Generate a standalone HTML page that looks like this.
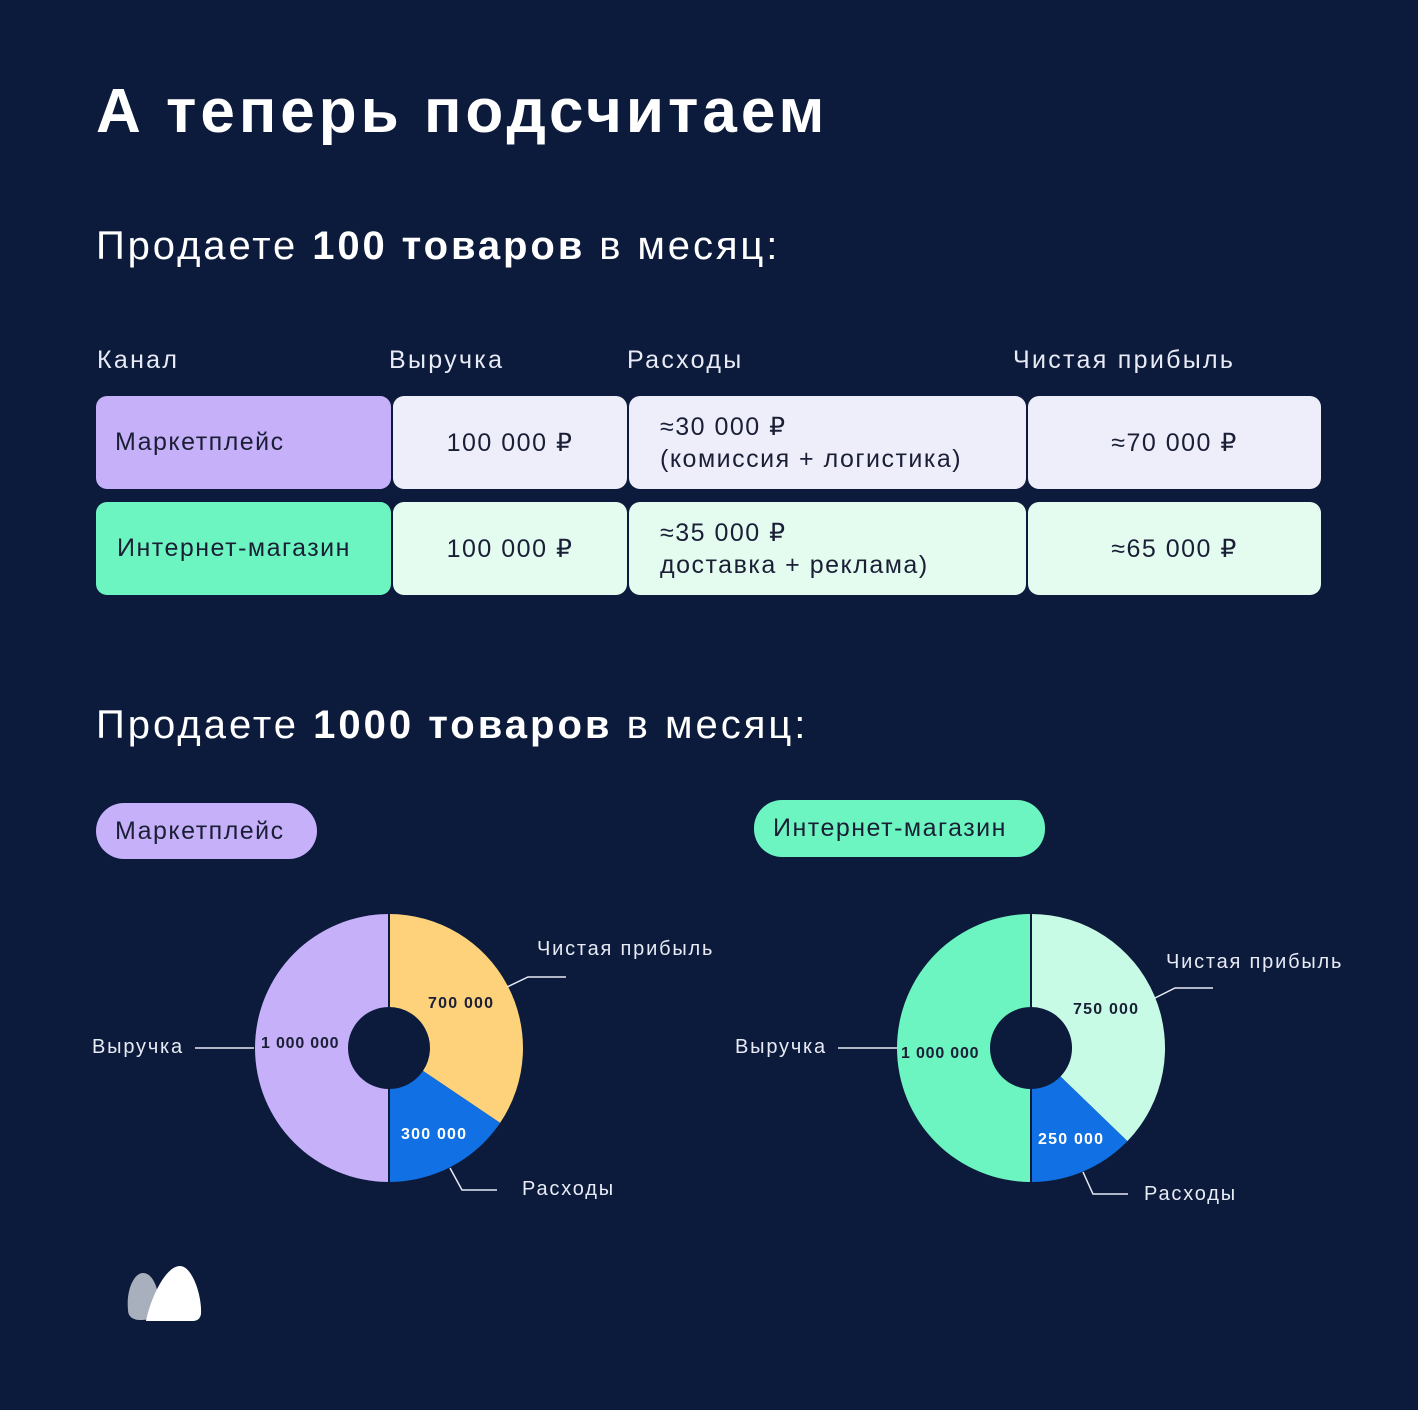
<!DOCTYPE html>
<html><head><meta charset="utf-8"><style>
body{margin:0;width:1418px;height:1410px;background:#0c1b3b;font-family:"Liberation Sans",sans-serif;position:relative;overflow:hidden;color:#fff}
.a{position:absolute;white-space:nowrap}
.cell{position:absolute;border-radius:11px;color:#1a1f36;font-size:25px;letter-spacing:1.5px;display:flex;align-items:center;box-sizing:border-box}
.h{font-size:25px;color:#e8ebf5;letter-spacing:2.3px}
</style></head><body>
<div class="a" style="left:96px;top:76px;font-size:62px;font-weight:bold;letter-spacing:4px">А теперь подсчитаем</div>
<div class="a" style="left:96px;top:224px;font-size:40px;letter-spacing:2.9px">Продаете <b>100 товаров</b> в месяц:</div>
<div class="a h" style="left:97px;top:346px">Канал</div>
<div class="a h" style="left:389px;top:346px">Выручка</div>
<div class="a h" style="left:627px;top:346px">Расходы</div>
<div class="a h" style="left:1013px;top:346px">Чистая прибыль</div>

<div class="cell" style="left:96px;top:396px;width:295px;height:93px;background:#c6b0f9;padding-left:19px">Маркетплейс</div>
<div class="cell" style="left:393px;top:396px;width:234px;height:93px;background:#eeeefb;justify-content:center">100 000 ₽</div>
<div class="cell" style="left:629px;top:396px;width:397px;height:93px;background:#eeeefb;padding-left:31px;line-height:32px">≈30 000 ₽<br>(комиссия + логистика)</div>
<div class="cell" style="left:1028px;top:396px;width:293px;height:93px;background:#eeeefb;justify-content:center">≈70 000 ₽</div>

<div class="cell" style="left:96px;top:502px;width:295px;height:93px;background:#6df5c1;padding-left:21px">Интернет-магазин</div>
<div class="cell" style="left:393px;top:502px;width:234px;height:93px;background:#e4fbf0;justify-content:center">100 000 ₽</div>
<div class="cell" style="left:629px;top:502px;width:397px;height:93px;background:#e4fbf0;padding-left:31px;line-height:32px">≈35 000 ₽<br>доставка + реклама)</div>
<div class="cell" style="left:1028px;top:502px;width:293px;height:93px;background:#e4fbf0;justify-content:center">≈65 000 ₽</div>

<div class="a" style="left:96px;top:703px;font-size:40px;letter-spacing:3px">Продаете <b>1000 товаров</b> в месяц:</div>
<div class="cell" style="left:96px;top:803px;width:221px;height:56px;border-radius:28px;background:#c6b0f9;padding-left:19px">Маркетплейс</div>
<div class="cell" style="left:754px;top:800px;width:291px;height:57px;border-radius:28px;background:#6df5c1;padding-left:19px">Интернет-магазин</div>

<svg class="a" style="left:0;top:0" width="1418" height="1410">
<g font-family="Liberation Sans,sans-serif" font-size="20" fill="#e8ebf5" letter-spacing="1.8">
<path d="M389,914 A134,134 0 0 1 500.1,1122.9 L423,1070.9 A41,41 0 0 0 389,1007 Z" fill="#fdd27b"/>
<path d="M500.1,1122.9 A134,134 0 0 1 389,1182 L389,1089 A41,41 0 0 0 423,1070.9 Z" fill="#1070e4"/>
<path d="M389,914 A134,134 0 0 0 389,1182 L389,1089 A41,41 0 0 1 389,1007 Z" fill="#c6b0f9"/>
<line x1="389" y1="914" x2="389" y2="1007" stroke="#0c1b3b" stroke-width="2"/>
<line x1="389" y1="1089" x2="389" y2="1182" stroke="#0c1b3b" stroke-width="2"/>
<text x="428" y="1008" font-size="16" font-weight="bold" fill="#1a1f36" letter-spacing="1.2">700 000</text>
<text x="261" y="1048" font-size="16" font-weight="bold" fill="#1a1f36" letter-spacing="0.8">1 000 000</text>
<text x="401" y="1139" font-size="16" font-weight="bold" fill="#fff" letter-spacing="1.2">300 000</text>
<text x="537" y="955">Чистая прибыль</text>
<polyline points="507,987 528,977 566,977" fill="none" stroke="#e8ebf5" stroke-width="1.5"/>
<text x="92" y="1053">Выручка</text>
<line x1="195" y1="1048" x2="254" y2="1048" stroke="#e8ebf5" stroke-width="1.5"/>
<text x="522" y="1195">Расходы</text>
<polyline points="450,1168 462,1190 497,1190" fill="none" stroke="#e8ebf5" stroke-width="1.5"/>

<path d="M1031,914 A134,134 0 0 1 1127.4,1141.1 L1060.5,1076.5 A41,41 0 0 0 1031,1007 Z" fill="#c7fbe5"/>
<path d="M1127.4,1141.1 A134,134 0 0 1 1031,1182 L1031,1089 A41,41 0 0 0 1060.5,1076.5 Z" fill="#1070e4"/>
<path d="M1031,914 A134,134 0 0 0 1031,1182 L1031,1089 A41,41 0 0 1 1031,1007 Z" fill="#6df5c1"/>
<line x1="1031" y1="914" x2="1031" y2="1007" stroke="#0c1b3b" stroke-width="2"/>
<line x1="1031" y1="1089" x2="1031" y2="1182" stroke="#0c1b3b" stroke-width="2"/>
<text x="1073" y="1014" font-size="16" font-weight="bold" fill="#1a1f36" letter-spacing="1.2">750 000</text>
<text x="901" y="1058" font-size="16" font-weight="bold" fill="#1a1f36" letter-spacing="0.8">1 000 000</text>
<text x="1038" y="1144" font-size="16" font-weight="bold" fill="#fff" letter-spacing="1.2">250 000</text>
<text x="1166" y="968">Чистая прибыль</text>
<polyline points="1155,998 1175,988 1213,988" fill="none" stroke="#e8ebf5" stroke-width="1.5"/>
<text x="735" y="1053">Выручка</text>
<line x1="838" y1="1048" x2="897" y2="1048" stroke="#e8ebf5" stroke-width="1.5"/>
<text x="1144" y="1200">Расходы</text>
<polyline points="1083,1172 1093,1194 1128,1194" fill="none" stroke="#e8ebf5" stroke-width="1.5"/>

<path d="M128,1310 C126,1290 134,1273 143,1273 C155,1273 160,1295 160,1312 C160,1318 150,1320 140,1320 C132,1320 128,1316 128,1310 Z" fill="#a9b0bd"/>
<path d="M146,1321 C150,1300 165,1266 180,1266 C192,1266 202,1295 201,1314 C200,1320 196,1321 192,1321 Z" fill="#fff"/>
</g>
</svg>
</body></html>
